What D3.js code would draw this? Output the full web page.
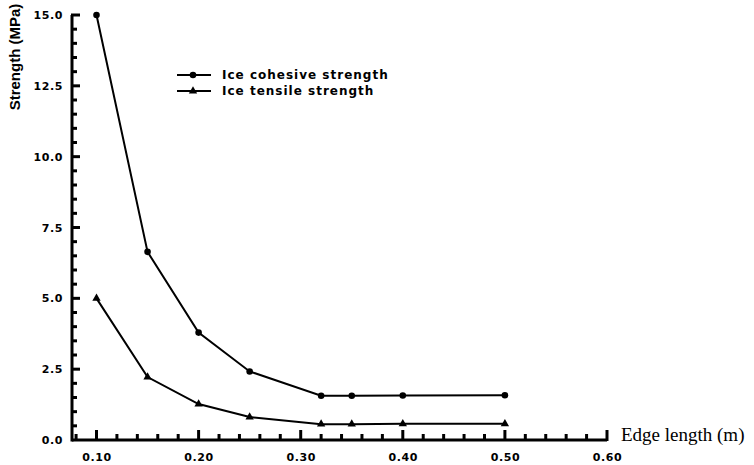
<!DOCTYPE html>
<html>
<head>
<meta charset="utf-8">
<script src="https://cdn.jsdelivr.net/npm/d3@7"></script>
<style>
  body { margin: 0; background: #fff; }
  .tick text { font-family: "DejaVu Sans", sans-serif; font-weight: bold; font-size: 11px; letter-spacing: 0.6px; fill: #000; }
</style>
</head>
<body>
<div id="chart"></div>
<script>
// data
var edgeLength = [0.10, 0.15, 0.20, 0.25, 0.32, 0.35, 0.40, 0.50];
var cohesive = [15.0, 6.64, 3.79, 2.42, 1.56, 1.56, 1.57, 1.58];
var tensile = [5.0, 2.22, 1.27, 0.81, 0.56, 0.56, 0.57, 0.57];
var xTicks = [0.10, 0.20, 0.30, 0.40, 0.50, 0.60];
var yTicks = [0.0, 2.5, 5.0, 7.5, 10.0, 12.5, 15.0];

var svgWidth = 754, svgHeight = 465;

var svg = d3.select("#chart")
  .append("svg")
  .attr("width", svgWidth)
  .attr("height", svgHeight);

var xScale = d3.scaleLinear().domain([0.076, 0.60]).range([72, 607]);
var yScale = d3.scaleLinear().domain([0, 15]).range([440, 15]);

// minor ticks every 0.02 on x and 0.5 on y
var xMinor = d3.range(0.08, 0.601, 0.02);
var yMinor = d3.range(0.5, 15.01, 0.5);

// axes (labels only, tick marks drawn below)
var xAxis = svg.append("g")
  .attr("transform", "translate(0,440)")
  .call(d3.axisBottom(xScale).tickValues(xTicks).tickSize(0).tickPadding(13).tickFormat(d3.format(".2f")));

var yAxis = svg.append("g")
  .attr("transform", "translate(72,0)")
  .call(d3.axisLeft(yScale).tickValues(yTicks).tickSize(0).tickPadding(9).tickFormat(d3.format(".1f")));

xAxis.select(".domain").remove();
yAxis.select(".domain").remove();

var ticks = svg.append("g");

ticks.selectAll(".xminor")
  .data(xMinor)
  .enter()
  .append("line")
  .attr("x1", d => xScale(d)).attr("x2", d => xScale(d))
  .attr("y1", 441)
  .attr("y2", d => xTicks.some(t => Math.abs(t - d) < 1e-6) ? 430 : 434)
  .attr("stroke", "#000")
  .attr("stroke-width", 3);

ticks.selectAll(".yminor")
  .data(yMinor)
  .enter()
  .append("line")
  .attr("y1", d => yScale(d)).attr("y2", d => yScale(d))
  .attr("x1", 71)
  .attr("x2", d => yTicks.indexOf(d) >= 0 ? 80 : 77)
  .attr("stroke", "#000")
  .attr("stroke-width", 3);

// axis lines
ticks.append("line")
  .attr("x1", xScale.range()[0]).attr("x2", xScale.range()[1])
  .attr("y1", yScale.range()[0]).attr("y2", yScale.range()[0])
  .attr("stroke", "#000")
  .attr("stroke-width", 3);

ticks.append("line")
  .attr("x1", xScale.range()[0]).attr("x2", xScale.range()[0])
  .attr("y1", yScale.range()[0] + 1.5).attr("y2", yScale.range()[1])
  .attr("stroke", "#000")
  .attr("stroke-width", 3);

// axis titles
svg.append("text")
  .attr("transform", "translate(20,57) rotate(-90)")
  .attr("text-anchor", "middle")
  .style("font-family", "Liberation Sans, Arial, sans-serif")
  .style("font-weight", "bold")
  .style("font-size", "15px")
  .text("Strength (MPa)");

svg.append("text")
  .attr("x", 621)
  .attr("y", 441)
  .style("font-family", "Liberation Serif, Times New Roman, serif")
  .style("font-size", "19px")
  .text("Edge length (m)");

// series lines
var line = function (values) {
  return d3.line()
    .x((d, i) => xScale(edgeLength[i]))
    .y(d => yScale(d))(values);
};

svg.append("path")
  .attr("d", line(cohesive))
  .attr("fill", "none")
  .attr("stroke", "#000")
  .attr("stroke-width", 2);

svg.append("path")
  .attr("d", line(tensile))
  .attr("fill", "none")
  .attr("stroke", "#000")
  .attr("stroke-width", 2);

var circleSym = d3.symbol().type(d3.symbolCircle).size(34);
var triSym = d3.symbol().type(d3.symbolTriangle).size(30);

svg.selectAll(".coh")
  .data(cohesive)
  .enter()
  .append("path")
  .attr("class", "coh")
  .attr("d", circleSym)
  .attr("transform", (d, i) => `translate(${xScale(edgeLength[i])},${yScale(d)})`)
  .attr("fill", "#000");

svg.selectAll(".ten")
  .data(tensile)
  .enter()
  .append("path")
  .attr("class", "ten")
  .attr("d", triSym)
  .attr("transform", (d, i) => `translate(${xScale(edgeLength[i])},${yScale(d)})`)
  .attr("fill", "#000");

// legend
var legendItems = [
  { label: "Ice cohesive strength", sym: circleSym },
  { label: "Ice tensile strength", sym: triSym }
];

var legend = svg.append("g").attr("transform", "translate(177,75)");

legendItems.forEach(function (item, i) {
  var row = legend.append("g").attr("transform", `translate(0,${i * 16})`);
  row.append("line")
    .attr("x1", 0).attr("x2", 34)
    .attr("y1", 0).attr("y2", 0)
    .attr("stroke", "#000")
    .attr("stroke-width", 2);
  row.append("path")
    .attr("d", item.sym)
    .attr("transform", "translate(16,0)")
    .attr("fill", "#000");
  row.append("text")
    .attr("x", 45)
    .attr("y", 4)
    .style("font-family", "DejaVu Sans, sans-serif")
    .style("font-weight", "bold")
    .style("font-size", "12px")
    .style("letter-spacing", "1px")
    .text(item.label);
});
</script>
</body>
</html>
